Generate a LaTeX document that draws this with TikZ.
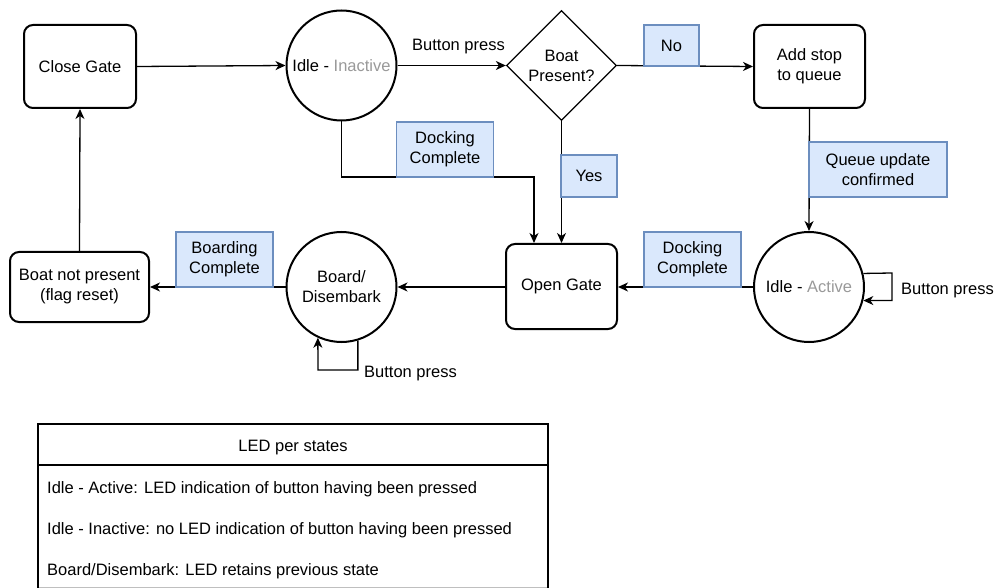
\documentclass[tikz,border=0pt]{standalone}
\usepackage{fontspec}
\setmainfont{Liberation Sans}
\usetikzlibrary{arrows.meta,shapes.geometric}
\definecolor{lblfill}{HTML}{DAE8FC}
\definecolor{lbldraw}{HTML}{6C8EBF}
\definecolor{dimtext}{HTML}{999999}
\begin{document}
\begin{tikzpicture}[x=1pt,y=-1pt,
  every node/.style={font=\fontsize{16.5}{20}\selectfont, inner sep=0pt, align=center},
  statebox/.style={draw, line width=2pt, rounded corners=9pt},
  statecircle/.style={draw, circle, line width=2pt, minimum size=110pt},
  decision/.style={draw, diamond, line width=1.3pt, minimum width=110pt, minimum height=110pt},
  tag/.style={draw=lbldraw, fill=lblfill, line width=1.2pt},
  flow/.style={line width=1.3pt, -{Stealth[length=10pt,width=9pt,inset=3pt]}},
  plain/.style={line width=1.3pt}]
\useasboundingbox (0,0) rectangle (996,588);

% states
\node[statebox, minimum width=112pt, minimum height=83pt] (close) at (80,66.5) {Close Gate};
\node[statecircle] (idleI) at (341.5,65.5) {Idle - \textcolor{dimtext}{Inactive}};
\node[decision] (boat) at (561.5,65.5) {Boat\\Present?};
\node[statebox, minimum width=111pt, minimum height=83pt] (addq) at (809.5,66.5) {Add stop\\to queue};
\node[statecircle] (idleA) at (809,287) {Idle - \textcolor{dimtext}{Active}};
\node[statebox, minimum width=111pt, minimum height=85pt] (open) at (561.5,286.5) {Open Gate};
\node[statecircle] (board) at (341.5,287) {Board/\\Disembark};
\node[statebox, minimum width=139pt, minimum height=70pt] (bnp) at (79.5,287) {Boat not present\\(flag reset)};

% connectors
\draw[flow] (close.east) -- (idleI.west);
\draw[flow] (idleI.east) -- (boat.west);
\draw[flow] (boat.east) -- (addq.west);
\draw[flow] (addq.south) -- (idleA.north);
\draw[flow] (idleA.west) -- (open.east |- idleA.west);
\draw[flow] (open.west |- board.east) -- (board.east);
\draw[flow] (board.west) -- (bnp.east |- board.west);
\draw[flow] (bnp.north) -- (close.south);
\draw[flow] (boat.south) -- (boat.south |- open.north);
\coordinate (dockbend) at (534,177);
\draw[flow] (idleI.south) |- (dockbend) -- (dockbend |- open.north);

% self loops
\coordinate (loopA) at (892,273);
\draw[flow] (idleA.14.7) -- (loopA) -- (loopA |- idleA.-14.7) -- (idleA.-14.7);
\coordinate (loopB) at (318,370);
\draw[flow] (board.-73.6) |- (loopB) -- (board.-115.3);

% edge labels
\node[tag, minimum width=55pt, minimum height=41pt] (tagNo) at (671.5,45.5) {No};
\node[tag, minimum width=56pt, minimum height=42pt] (tagYes) at (589,176) {Yes};
\node[tag, minimum width=138pt, minimum height=55pt] (tagQueue) at (878,169.5) {Queue update\\confirmed};
\node[tag, minimum width=97pt, minimum height=55pt] (tagDock1) at (445,149.5) {Docking\\Complete};
\node[tag, minimum width=97pt, minimum height=55pt] (tagDock2) at (692.5,259.5) {Docking\\Complete};
\node[tag, minimum width=97pt, minimum height=55pt] (tagBoard) at (224.5,259.5) {Boarding\\Complete};
\node[anchor=base] (bp1) at (458.5,51) {Button press};
\node[anchor=base west] (bp2) at (901,294) {Button press};
\node[anchor=base west] (bp3) at (364,377) {Button press};

% LED legend
\draw[line width=2pt] (38,424) rectangle (548,600);
\draw[line width=2pt] (38,465) -- (548,465);
\draw[line width=0.6pt, black!25] (39,587) -- (547,587);
\node[anchor=base] (ledhead) at (293,451) {LED per states};
\node[anchor=base west] (led1) at (47,493) {Idle - Active: LED indication of button having been pressed};
\node[anchor=base west] (led2) at (47,534) {Idle - Inactive: no LED indication of button having been pressed};
\node[anchor=base west] (led3) at (47,575) {Board/Disembark: LED retains previous state};
\end{tikzpicture}
\end{document}
